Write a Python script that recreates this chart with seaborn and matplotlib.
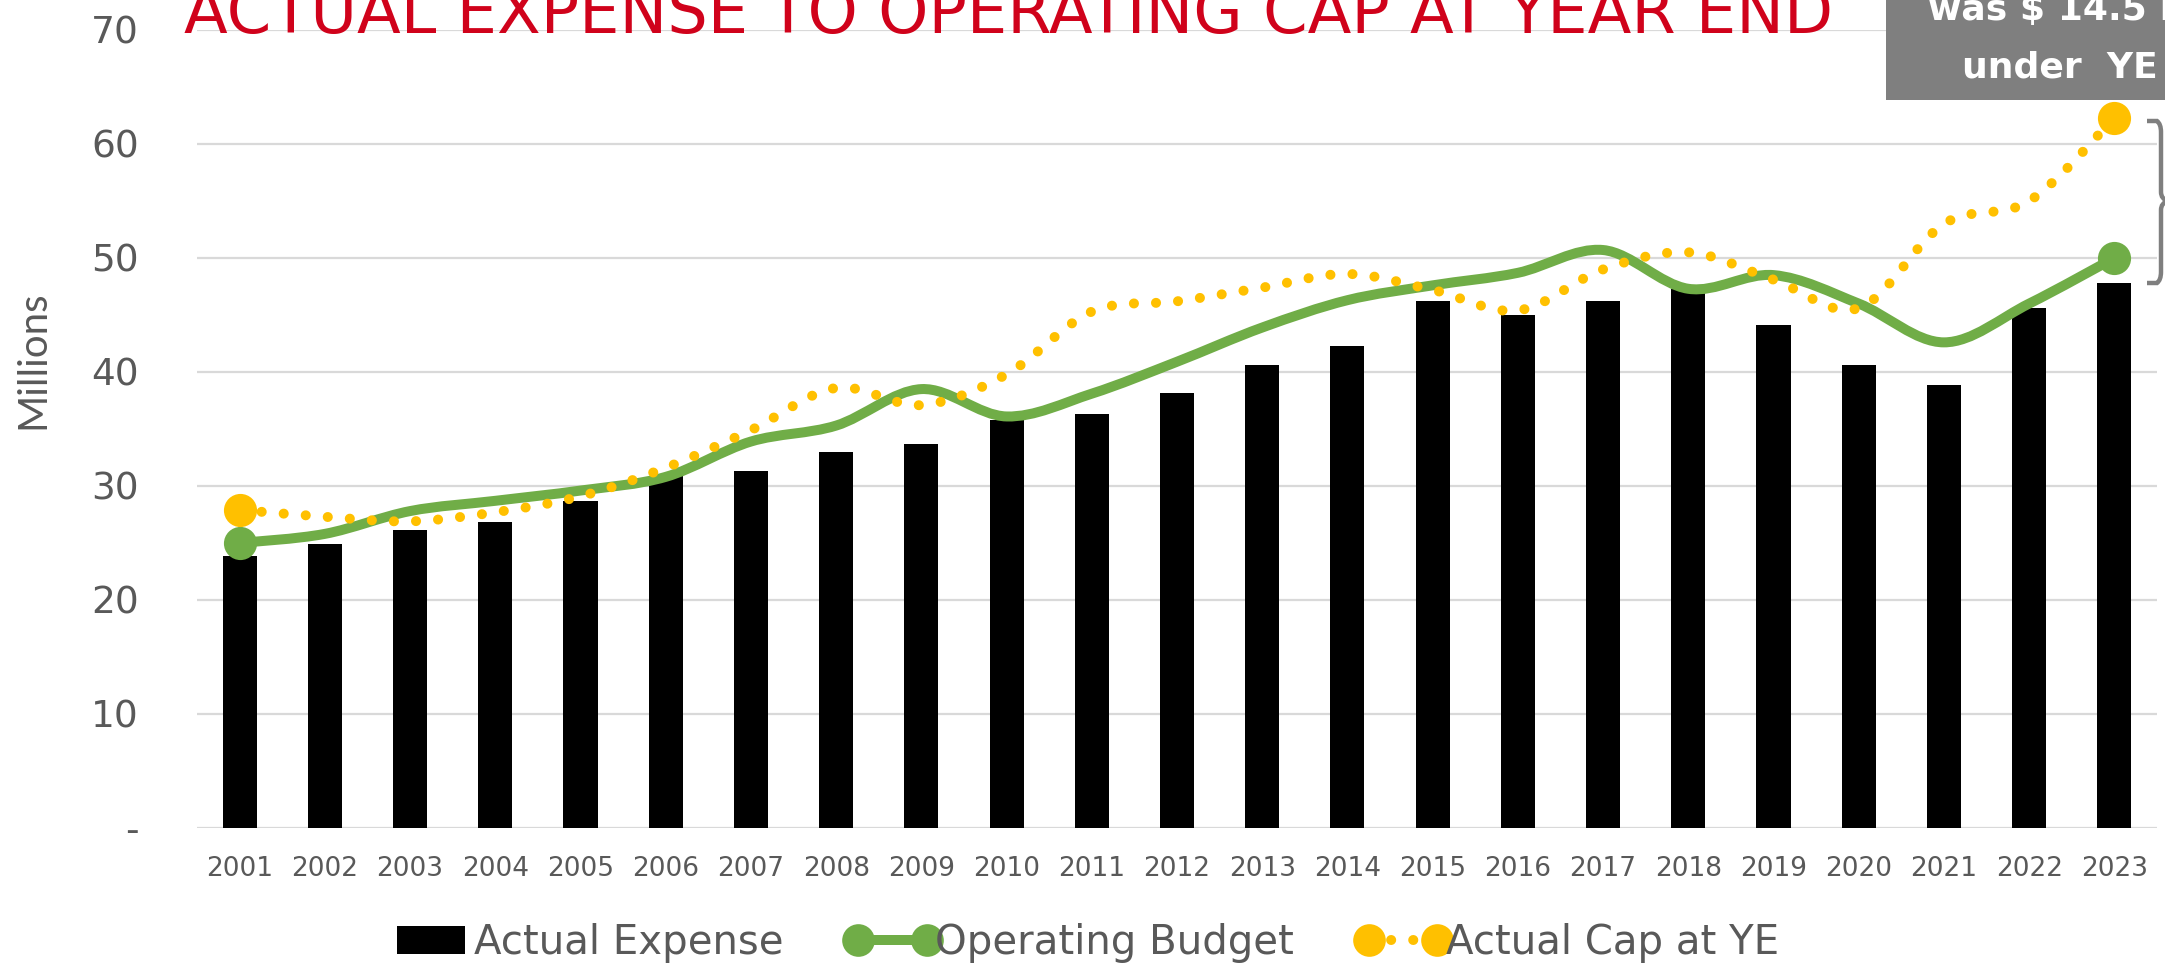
import matplotlib
matplotlib.use("Agg")
import matplotlib.pyplot as plt
from matplotlib.path import Path
from matplotlib.patches import PathPatch, Rectangle
from matplotlib.lines import Line2D
from matplotlib.legend_handler import HandlerLine2D
from matplotlib.transforms import IdentityTransform
import seaborn as sns

# values (millions)
years = [str(y) for y in range(2001, 2024)]
actual_expense = [23.9, 24.9, 26.1, 26.8, 28.7, 30.9, 31.3, 33.0, 33.7, 35.8, 36.3, 38.2,
                  40.6, 42.3, 46.2, 45.0, 46.2, 47.3, 44.1, 40.6, 38.9, 45.6, 47.8]
operating_budget = [25.0, 25.8, 27.8, 28.7, 29.6, 30.8, 33.9, 35.3, 38.5, 36.1, 38.1, 40.9,
                    43.9, 46.3, 47.6, 48.7, 50.7, 47.3, 48.5, 46.0, 42.6, 46.0, 50.0]
actual_cap = [27.9, 27.3, 26.9, 27.7, 29.1, 31.6, 34.9, 38.6, 37.1, 39.8, 45.3, 46.2,
              47.4, 48.6, 47.2, 45.4, 49.0, 50.5, 48.1, 45.6, 53.0, 55.0, 62.3]
ytick_vals = [0, 10, 20, 30, 40, 50, 60, 70]
ytick_labels = ["-", "10", "20", "30", "40", "50", "60", "70"]

GREEN = "#70AD47"
GOLD = "#FFC000"
GREY_TXT = "#595959"
RED = "#D0021B"

W, H = 2165, 973

sns.set_style("white")
plt.rcParams["font.family"] = ["DejaVu Sans"]


def smooth_path(vals):
    """Excel-style smoothed line: Catmull-Rom segments as cubic Beziers."""
    pts = list(enumerate(vals))
    verts = [pts[0]]
    codes = [Path.MOVETO]
    n = len(pts)
    for i in range(n - 1):
        p0 = pts[i - 1] if i > 0 else pts[i]
        p1, p2 = pts[i], pts[i + 1]
        p3 = pts[i + 2] if i + 2 < n else pts[i + 1]
        c1 = (p1[0] + (p2[0] - p0[0]) / 6, p1[1] + (p2[1] - p0[1]) / 6)
        c2 = (p2[0] - (p3[0] - p1[0]) / 6, p2[1] - (p3[1] - p1[1]) / 6)
        verts += [c1, c2, p2]
        codes += [Path.CURVE4] * 3
    return Path(verts, codes)


fig = plt.figure(figsize=(W / 100, H / 100), dpi=100)
ax = fig.add_axes([197 / W, 145 / H, 1960 / W, 798 / H])

sns.barplot(x=years, y=actual_expense, color="black", saturation=1, width=0.4,
            edgecolor="none", ax=ax, zorder=2)

dotted = (0, (0.01, 2.2))
ax.add_patch(PathPatch(smooth_path(operating_budget), fill=False, edgecolor=GREEN,
                       lw=7.2, capstyle="round", joinstyle="round", zorder=3))
ax.add_patch(PathPatch(smooth_path(actual_cap), fill=False, edgecolor=GOLD,
                       lw=7.2, linestyle=dotted, capstyle="round", zorder=4))

ends = [years[0], years[-1]]
sns.scatterplot(x=ends, y=[operating_budget[0], operating_budget[-1]], color=GREEN,
                s=570, linewidth=0, ax=ax, zorder=5, legend=False)
sns.scatterplot(x=ends, y=[actual_cap[0], actual_cap[-1]], color=GOLD,
                s=570, linewidth=0, ax=ax, zorder=6, legend=False)

ax.set_xlim(-0.5, len(years) - 0.5)
ax.set_ylim(0, 70)
ax.set_yticks(ytick_vals)
ax.set_yticklabels(ytick_labels)
ax.yaxis.grid(True, color="#d9d9d9", lw=1.6, zorder=0)
ax.xaxis.grid(False)
ax.set_axisbelow(True)
for s in ax.spines.values():
    s.set_visible(False)
ax.tick_params(axis="y", length=0, pad=42, labelsize=27, labelcolor=GREY_TXT)
ax.tick_params(axis="x", length=0, pad=20, labelsize=19, labelcolor=GREY_TXT)
ax.set_xlabel("")
ax.set_ylabel("")

fig.text(33 / W, 1 - 360 / H, "Millions", rotation=90, ha="center", va="center",
         fontsize=29, color=GREY_TXT, family=["Lato", "DejaVu Sans"])

# title, partly cut by the top edge as in the original
title = fig.text(184 / W, 1 - 33 / H, "ACTUAL EXPENSE TO OPERATING CAP AT YEAR END",
                 ha="left", va="baseline", color=RED, fontsize=42)
fig.canvas.draw()
tw = title.get_window_extent().width
title.set_fontsize(42 * 1650 / tw)

# grey callout box in the upper right corner
fig.add_artist(Rectangle((1886 / W, 1 - 100 / H), 300 / W, 0.2, transform=fig.transFigure,
                         facecolor="#7f7f7f", edgecolor="none", clip_on=False))
fig.text(2062 / W, 1 - 20 / H, "was $ 14.5 M", ha="center", va="baseline", color="white",
         fontsize=26, fontweight="bold")
fig.text(2060 / W, 1 - 78 / H, "under  YE", ha="center", va="baseline", color="white",
         fontsize=26, fontweight="bold")

# brace between the two 2023 end points
bx = [(2147, 121), (2157, 121), (2161, 124), (2161, 132), (2161, 192), (2161, 199),
      (2168, 201), (2161, 203), (2161, 210), (2161, 272), (2161, 280), (2157, 283), (2147, 283)]
bc = [Path.MOVETO, Path.LINETO, Path.CURVE3, Path.CURVE3, Path.LINETO, Path.CURVE3,
      Path.CURVE3, Path.CURVE3, Path.CURVE3, Path.LINETO, Path.CURVE3, Path.CURVE3, Path.LINETO]
brace = Path([(x, H - y) for x, y in bx], bc)
fig.add_artist(PathPatch(brace, transform=IdentityTransform(), fill=False,
                         edgecolor="#7f7f7f", lw=3.2, clip_on=False))

handles = [
    Rectangle((0, 0), 1, 1, facecolor="black", edgecolor="none"),
    Line2D([], [], color=GREEN, lw=7.2, marker="o", markersize=23.5, markeredgewidth=0),
    Line2D([], [], color=GOLD, lw=7.2, linestyle=dotted, dash_capstyle="round",
           marker="o", markersize=23.5, markeredgewidth=0),
]
labels = ["Actual Expense", "Operating Budget", "Actual Cap at YE"]
fig.legend(handles, labels, loc="center", bbox_to_anchor=(1088 / W, 30 / H), ncol=3,
           frameon=False, fontsize=29, numpoints=2, handlelength=1.7, handleheight=0.7,
           handletextpad=0.22, columnspacing=1.85, labelcolor=GREY_TXT,
           handler_map={Line2D: HandlerLine2D(marker_pad=0)})

fig.savefig("out.png", dpi=100)
plt.close(fig)
